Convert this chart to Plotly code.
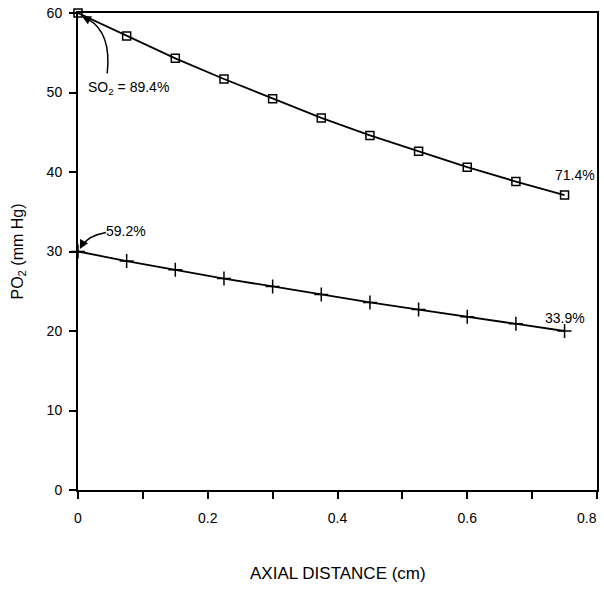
import plotly.graph_objects as go

# axial distance (cm)
distance = [0, 0.075, 0.15, 0.225, 0.3, 0.375, 0.45, 0.525, 0.6, 0.675, 0.75]
# PO2 (mm Hg)
po2_upper = [60.0, 57.1, 54.3, 51.7, 49.2, 46.8, 44.6, 42.6, 40.6, 38.8, 37.1]
po2_lower = [30.0, 28.8, 27.7, 26.6, 25.6, 24.6, 23.6, 22.7, 21.8, 20.9, 20.0]

x_tickvals = [0, 0.1, 0.2, 0.3, 0.4, 0.5, 0.6, 0.7, 0.8]
x_ticktext = ["0", "", "0.2", "", "0.4", "", "0.6", "", ""]
x_last_label = "0.8"
y_tickvals = [0, 10, 20, 30, 40, 50, 60]

FONT = "Liberation Sans, Arial, sans-serif"

fig = go.Figure()

fig.add_trace(go.Scatter(
    x=distance, y=po2_upper, mode="lines+markers",
    line=dict(color="black", width=1.8),
    marker=dict(symbol="square-open", size=8, color="black", line=dict(width=1.5)),
    cliponaxis=False, showlegend=False,
))
fig.add_trace(go.Scatter(
    x=distance, y=po2_lower, mode="lines+markers",
    line=dict(color="black", width=1.8),
    marker=dict(symbol="cross-thin-open", size=10, color="black", line=dict(width=1.5, color="black")),
    cliponaxis=False, showlegend=False,
))

# curved leader lines
fig.add_shape(type="path", path="M 0.045 52.4 Q 0.052 57.5 0.016 59.2",
              line=dict(color="black", width=1.5))
fig.add_shape(type="path", path="M 0.043 32.4 Q 0.016 32 0.007 30.8",
              line=dict(color="black", width=1.5))

# arrowheads
fig.add_annotation(x=0.006, y=59.6, ax=0.018, ay=59.1, axref="x", ayref="y",
                   text="", showarrow=True, arrowhead=2, arrowsize=1.2,
                   arrowwidth=1.5, arrowcolor="black")
fig.add_annotation(x=0.003, y=30.3, ax=0.008, ay=31.1, axref="x", ayref="y",
                   text="", showarrow=True, arrowhead=2, arrowsize=1.2,
                   arrowwidth=1.5, arrowcolor="black")

labels = [
    (0.012, 50.6, "SO<sub>2</sub> = 89.4%"),
    (0.04, 32.6, "59.2%"),
    (0.732, 39.6, "71.4%"),
    (0.716, 21.6, "33.9%"),
]
for lx, ly, txt in labels:
    fig.add_annotation(x=lx, y=ly, text=txt, showarrow=False, xanchor="left",
                       font=dict(family=FONT, size=14, color="black"))

# last x tick label, kept inside the page
fig.add_annotation(x=0.8, xref="x", y=0, yref="paper", yshift=-28, xshift=2,
                   text=x_last_label, showarrow=False, xanchor="right", yanchor="middle",
                   font=dict(family=FONT, size=14, color="black"))

# axis titles
fig.add_annotation(x=0.5, xref="paper", y=0, yref="paper", yshift=-83,
                   text="AXIAL DISTANCE (cm)", showarrow=False, yanchor="middle",
                   font=dict(family=FONT, size=17, color="black"))
fig.add_annotation(x=0, xref="paper", xshift=-60, y=0.5, yref="paper",
                   text="PO<sub>2</sub> (mm Hg)", showarrow=False, textangle=-90,
                   xanchor="center", font=dict(family=FONT, size=16, color="black"))

fig.update_layout(
    width=604, height=589,
    margin=dict(l=78, r=7, t=13, b=99),
    paper_bgcolor="white", plot_bgcolor="white",
    font=dict(family=FONT, size=13, color="black"),
    xaxis=dict(
        range=[0, 0.8], tickvals=x_tickvals, ticktext=x_ticktext,
        showgrid=False, zeroline=False, showline=True, linecolor="black",
        linewidth=2, mirror=True, ticks="outside", ticklen=7, tickwidth=1.5,
        tickcolor="black", tickfont=dict(family=FONT, size=14), automargin=False,
        ticklabelstandoff=7,
    ),
    yaxis=dict(
        range=[0, 60], tickvals=y_tickvals,
        showgrid=False, zeroline=False, showline=True, linecolor="black",
        linewidth=2, mirror=True, ticks="outside", ticklen=7, tickwidth=1.5,
        tickcolor="black", tickfont=dict(family=FONT, size=14), automargin=False,
        ticklabelstandoff=4,
    ),
)

fig.write_html("out.html", config={"displayModeBar": False},
               post_script="document.body.style.margin='0';document.body.style.overflow='hidden';")
